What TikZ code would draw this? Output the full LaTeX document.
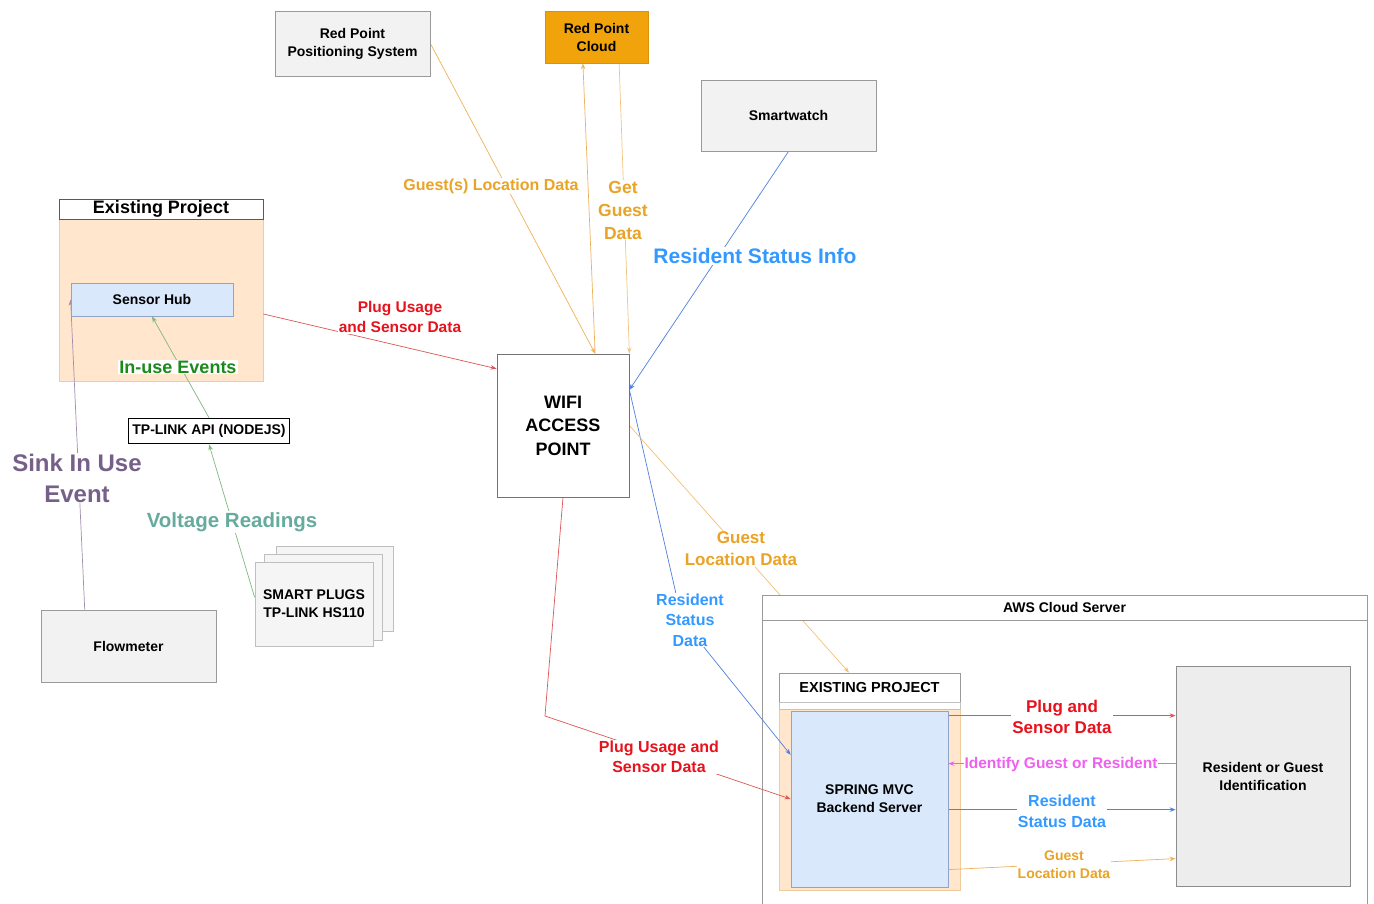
\documentclass[tikz,border=0pt]{standalone}
\usepackage{fontspec}
\setmainfont{Liberation Sans}
\usetikzlibrary{arrows.meta,calc}
\pgfdeclarelayer{bg}\pgfdeclarelayer{edges}
\pgfsetlayers{bg,edges,main}
\definecolor{cOrange}{HTML}{E9A326}
\definecolor{cOrangeLine}{HTML}{EFB25A}
\definecolor{cRed}{HTML}{E8121C}
\definecolor{cRedLine}{HTML}{DD5555}
\definecolor{cBlue}{HTML}{3399FF}
\definecolor{cBlueLine}{HTML}{4F7FE0}
\definecolor{cPurple}{HTML}{76608A}
\definecolor{cTeal}{HTML}{67AB9F}
\definecolor{cGreen}{HTML}{1A8A1A}
\definecolor{cGreenLine}{HTML}{7FB87F}
\definecolor{cMagenta}{HTML}{F060F0}
\definecolor{boxGray}{HTML}{F2F2F2}
\definecolor{boxBorder}{HTML}{9A9A9A}
\definecolor{peach}{HTML}{FFE6CC}
\definecolor{peachBorder}{HTML}{F3CC9C}
\definecolor{hubBlue}{HTML}{DAE8FC}
\definecolor{hubBorder}{HTML}{8EA4C8}
\definecolor{cloudOrange}{HTML}{F0A30A}
\newcommand{\fsz}[2]{\fontsize{#1}{#2}\selectfont\bfseries}
\begin{document}
\begin{tikzpicture}[x=1pt,y=-1pt,
  box/.style={draw=boxBorder,fill=boxGray,line width=0.8pt,align=center,font=\fsz{14}{18},inner sep=0pt},
  lbl/.style={fill=white,inner sep=1pt,align=center},
  edge/.style={line width=0.7pt,-{Stealth[length=6pt,width=4.5pt]}},
]
\useasboundingbox (0,0) rectangle (1374,903);

% containers
\begin{pgfonlayer}{bg}
\fill[white] (0,0) rectangle (1374,903);
\node[draw=peachBorder,fill=peach,line width=0.8pt,minimum width=204pt,minimum height=162pt,inner sep=0pt] (epbody) at (161,300) {};
\draw[boxBorder,line width=0.8pt,fill=white] (762,915) -- (762,595) -- (1367,595) -- (1367,915);
\node[draw=peachBorder,fill=peach,line width=0.8pt,minimum width=181pt,minimum height=181pt,inner sep=0pt] (ep2body) at (869.5,799.5) {};
\end{pgfonlayer}

% boxes
\node[box,minimum width=155pt,minimum height=65pt] (rpps) at (352.5,43.5) {Red Point\\Positioning System};
\node[box,fill=cloudOrange,draw=cloudOrange!90!black,minimum width=103pt,minimum height=52pt] (cloud) at (596.5,37) {Red Point\\Cloud};
\node[box,minimum width=175pt,minimum height=71pt] (watch) at (788.5,115.5) {Smartwatch};
\node[draw=black!65,fill=white,line width=0.8pt,minimum width=204pt,minimum height=20pt,inner sep=0pt,font=\fsz{18}{22}] (ephead) at (161,209) {Existing Project};
\node[box,fill=hubBlue,draw=hubBorder,minimum width=162pt,minimum height=33pt] (hub) at (152,299.5) {Sensor Hub};
\node[box,fill=white,draw=black,line width=1.6pt,minimum width=161pt,minimum height=25pt] (tplink) at (209,431) {TP-LINK API (NODEJS)};
\node[box,draw=black!25,fill=black!4,minimum width=117pt,minimum height=85pt] (plug3) at (334.5,588.5) {};
\node[box,draw=black!25,fill=black!4,minimum width=118pt,minimum height=86pt] (plug2) at (323,597) {};
\node[box,draw=black!25,fill=black!4,minimum width=118pt,minimum height=84pt] (plugs) at (314,604) {SMART PLUGS\\TP-LINK HS110};
\node[box,minimum width=175pt,minimum height=72pt] (flow) at (128.5,646) {Flowmeter};
\node[box,fill=white,draw=black!55,minimum width=132pt,minimum height=143pt,font=\fsz{18}{23.5}] (wifi) at (563,425.5) {WIFI\\ACCESS\\POINT};
\node[draw=boxBorder,line width=0.8pt,fill=white,minimum width=605pt,minimum height=25pt,inner sep=0pt,font=\fsz{14}{18}] (awshead) at (1064.5,607.5) {AWS Cloud Server};
\node[draw=boxBorder,line width=0.8pt,fill=white,minimum width=181pt,minimum height=29pt,inner sep=0pt,font=\fsz{14.5}{18}] (ep2head) at (869.5,687.5) {EXISTING PROJECT};
\node[draw=boxBorder!60,line width=0.8pt,fill=white,minimum width=181pt,minimum height=7pt,inner sep=0pt] (ep2strip) at (869.5,705.5) {};
\node[box,fill=hubBlue,draw=hubBorder,minimum width=157pt,minimum height=176pt] (spring) at (869.5,799) {SPRING MVC\\Backend Server};
\node[box,fill=black!7,draw=black!45,minimum width=174pt,minimum height=220pt] (rgi) at (1263,776) {Resident or Guest\\Identification};

\coordinate (rsdbend) at (682,620);
\coordinate (plugbend) at (545,716);

% edges
\begin{pgfonlayer}{edges}
\draw[edge,cOrangeLine] (rpps.east) -- ($(wifi.north west)!0.742!(wifi.north east)$);
\draw[edge,cOrangeLine] ($(wifi.north west)!0.742!(wifi.north east)$) -- ($(cloud.south west)!0.369!(cloud.south east)$);
\draw[edge,cOrangeLine!75] ($(cloud.south west)!0.718!(cloud.south east)$) -- (wifi.north east);
\draw[edge,cBlueLine] (watch.south) -- ($(wifi.north east)!0.252!(wifi.south east)$);
\draw[edge,cRedLine] ($(epbody.north east)!0.586!(epbody.south east)$) -- ($(wifi.north west)!0.105!(wifi.south west)$);
\draw[edge,cGreenLine] (tplink.north) -- (hub.south);
\draw[edge,cGreenLine] ($(plugs.north west)!0.42!(plugs.south west)$) -- (tplink.south);
\draw[edge,cPurple!70] ($(flow.north west)!0.251!(flow.north east)$) -- (hub.west);
\draw[edge,cBlueLine] ($(wifi.north east)!0.252!(wifi.south east)$) -- (rsdbend) -- ($(spring.north west)!0.25!(spring.south west)$);
\draw[edge,cRedLine] (wifi.south) -- (plugbend) -- (spring.west);
\draw[edge,cOrangeLine!80] (wifi.east) -- ($(ep2head.north)+(-20.5,0)$);
\draw[edge,cRedLine] ($(spring.north east)+(0,5)$) -- ($(rgi.north west)+(0,50)$);
\draw[edge,cMagenta] ($(rgi.north west)+(0,98)$) -- ($(spring.north east)+(0,53)$);
\draw[edge,cBlueLine!80!cBlue] ($(spring.north east)+(0,99)$) -- ($(rgi.north west)+(0,144)$);
\draw[edge,cOrangeLine] ($(spring.north east)+(0,159)$) -- ($(rgi.north west)+(0,193)$);
\end{pgfonlayer}

% labels
\node[lbl,text=cOrange,font=\fsz{16}{20}] (lGuestsLoc) at (491,186) {Guest(s) Location Data};
\node[lbl,text=cOrange,font=\fsz{17.5}{23}] (lGetGuest) at (623,210) {Get\\Guest\\Data};
\node[lbl,text=cBlue,font=\fsz{21}{26}] (lResInfo) at (755,256) {Resident Status Info};
\node[lbl,text=cRed,font=\fsz{15.5}{20}] (lPlugTop) at (400,317) {Plug Usage\\and Sensor Data};
\node[lbl,text=cGreen,font=\fsz{18}{22}] (lInUse) at (178,367) {In-use Events};
\node[lbl,text=cPurple,font=\fsz{24}{31}] (lSink) at (77,478) {Sink In Use\\Event};
\node[lbl,text=cTeal,font=\fsz{20.5}{25}] (lVolt) at (232,522) {Voltage Readings};
\node[lbl,text=cOrange,font=\fsz{17}{22}] (lGuestLocMid) at (741,549) {Guest\\Location Data};
\node[lbl,text=cBlue,font=\fsz{16}{20.5}] (lResStatMid) at (690,620) {Resident\\Status\\Data};
\node[lbl,text=cRed,font=\fsz{16}{20}] (lPlugBot) at (659,757) {Plug Usage and\\Sensor Data};
\node[lbl,text=cRed,font=\fsz{17}{21}] (lPlugAws) at (1062,717) {Plug and\\Sensor Data};
\node[lbl,text=cMagenta,font=\fsz{15.5}{19}] (lIdent) at (1061,764) {Identify Guest or Resident};
\node[lbl,text=cBlue,font=\fsz{16}{21}] (lResAws) at (1062,811) {Resident\\Status Data};
\node[lbl,text=cOrange,font=\fsz{14}{18}] (lGuestAws) at (1064,865) {Guest\\Location Data};
\end{tikzpicture}
\end{document}
